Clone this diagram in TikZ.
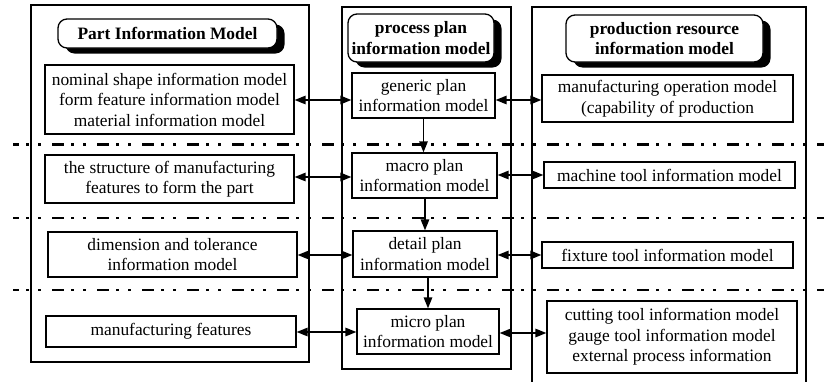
\documentclass[tikz,border=0pt]{standalone}
\usepackage{fontspec}
\setmainfont{Liberation Serif}
\usetikzlibrary{arrows.meta,shadows}

\begin{document}
\begin{tikzpicture}[x=1pt,y=-1pt,
  txt/.style={font=\fontsize{17.4}{20.5}\selectfont},
  box/.style={txt, draw, line width=1.3pt, fill=white, inner sep=0pt, align=center},
  title/.style={txt, draw, line width=1.3pt, rounded corners=9pt, fill=white,
    inner sep=0pt, align=center, font=\fontsize{17.4}{20.5}\selectfont\bfseries,
    drop shadow={shadow xshift=7.5pt, shadow yshift=-5.5pt, fill=black, opacity=1}},
  frame/.style={line width=1.4pt},
  level/.style={line width=2.6pt,
    dash pattern=on 12pt off 7pt on 3pt off 9pt on 3pt off 11pt, dash phase=6pt},
  tip/.tip={Triangle[length=11pt,width=8.5pt]},
  link/.style={line width=1.4pt, tip-tip},
  flow/.style={line width=1.4pt, -tip}
]
\useasboundingbox (0,0) rectangle (824,381);

% level separators
\draw[level] (13,144.5) -- (824,144.5);
\draw[level] (13,218) -- (824,218);
\draw[level] (13,290) -- (824,290);

% column frames
\draw[frame] (31,5) rectangle (309,362);
\draw[frame] (342,7) rectangle (511,369);
\draw[frame] (532,390) -- (532,7) -- (806,7) -- (806,390);

% column titles
\node[title, minimum width=219pt, minimum height=29pt] (T1) at (167.5,33.5) {Part Information Model};
\node[title, minimum width=146pt, minimum height=48pt] (T2) at (421,38) {process plan\\information model};
\node[title, minimum width=197pt, minimum height=47pt] (T3) at (664.5,38.5) {production resource\\information model};

% part information model
\node[box, minimum width=249pt, minimum height=69pt] (L1) at (169.5,99.5)
  {nominal shape information model\\form feature information model\\material information model};
\node[box, minimum width=249pt, minimum height=48pt] (L2) at (169.5,179)
  {the structure of manufacturing\\features to form the part};
\node[box, minimum width=249pt, minimum height=45pt] (L3) at (172.5,254.5)
  {dimension and tolerance\\information model};
\node[box, minimum width=250pt, minimum height=31pt] (L4) at (171,331.5)
  {manufacturing features};

% process plan information model
\node[box, minimum width=143pt, minimum height=45pt] (G) at (423.5,95.5)
  {generic plan\\information model};
\node[box, minimum width=145pt, minimum height=45pt] (Ma) at (424.5,175.5)
  {macro plan\\information model};
\node[box, minimum width=144pt, minimum height=46pt] (D) at (425,254)
  {detail plan\\information model};
\node[box, minimum width=142pt, minimum height=45pt] (Mi) at (428,331.5)
  {micro plan\\information model};

% production resource information model
\node[box, minimum width=251pt, minimum height=47pt] (R1) at (667.5,98.5)
  {manufacturing operation model\\(capability of production};
\node[box, minimum width=251pt, minimum height=26pt] (R2) at (669.5,175)
  {machine tool information model};
\node[box, minimum width=251pt, minimum height=26pt] (R3) at (667.5,255)
  {fixture tool information model};
\node[box, minimum width=250pt, minimum height=72pt] (R4) at (672,337)
  {cutting tool information model\\gauge tool information model\\external process information};

% row heights of the links
\coordinate (y1) at (0,100);
\coordinate (y2) at (0,177);
\coordinate (y3) at (0,255);
\coordinate (y4) at (0,332);
\coordinate (z1) at (0,100);
\coordinate (z2) at (0,175);
\coordinate (z3) at (0,255);
\coordinate (z4) at (0,333);

% links between part model and plan
\draw[link] (L1.east |- y1) -- (G.west |- y1);
\draw[link] (L2.east |- y2) -- (Ma.west |- y2);
\draw[link] (L3.east |- y3) -- (D.west |- y3);
\draw[link] (L4.east |- y4) -- (Mi.west |- y4);

% links between plan and resources
\draw[link] (G.east |- z1) -- (R1.west |- z1);
\draw[link] (Ma.east |- z2) -- (R2.west |- z2);
\draw[link] (D.east |- z3) -- (R3.west |- z3);
\draw[link] (Mi.east |- z4) -- (R4.west |- z4);

% refinement of the plan
\draw[flow] (G.south) -- (G.south |- Ma.north);
\draw[flow] (D.north |- Ma.south) -- (D.north);
\draw[flow] (Mi.north |- D.south) -- (Mi.north);
\end{tikzpicture}
\end{document}
